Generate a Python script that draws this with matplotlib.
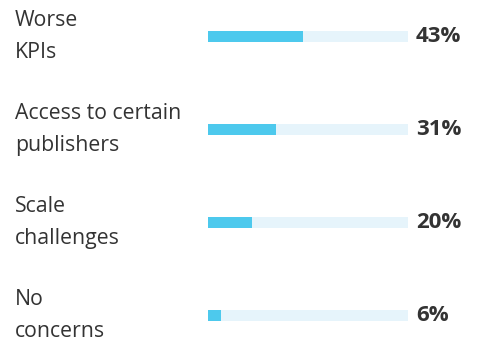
import matplotlib
matplotlib.use("Agg")
import matplotlib.pyplot as plt
import matplotlib.transforms as mtransforms

# Data
labels = ["Worse\nKPIs", "Access to certain\npublishers", "Scale\nchallenges", "No\nconcerns"]
values = [43, 31, 20, 6]
track_max = 91  # full length of the light track, in %

fill_color = "#4DC9ED"
track_color = "#E6F4FB"
text_color = "#333333"

plt.rcParams["font.family"] = ["Open Sans", "DejaVu Sans"]

fig = plt.figure(figsize=(4.83, 3.39), dpi=100)
ax = fig.add_axes([208 / 483, 0, 200 / 483, 1])

ypos = list(range(len(values)))
bar_h = 0.12

# background track and filled part
ax.barh(ypos, [track_max] * len(values), height=bar_h, color=track_color, linewidth=0)
ax.barh(ypos, values, height=bar_h, color=fill_color, linewidth=0)

ax.set_xlim(0, track_max)
ax.set_ylim(3.253, -0.392)
ax.axis("off")

trans = mtransforms.blended_transform_factory(fig.transFigure, ax.transData)
for y, lab, v in zip(ypos, labels, values):
    ax.text(15 / 483, y, lab, transform=trans, ha="left", va="center",
            fontsize=15.3, color=text_color, linespacing=1.65, clip_on=False)
    ax.text(416 / 483, y, f"{v}%", transform=trans, ha="left", va="center",
            fontsize=16, fontweight="bold", color=text_color, clip_on=False)

fig.savefig("out.png", dpi=100)
